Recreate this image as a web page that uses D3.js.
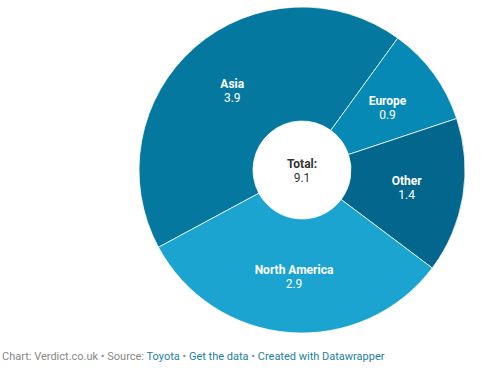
<!DOCTYPE html>
<html>
<head>
<meta charset="utf-8">
<script src="https://cdn.jsdelivr.net/npm/d3@7"></script>
<style>
  body { margin: 0; background: #fff; font-family: Roboto, "Noto Sans", sans-serif; }
  .footer { font-size: 11px; fill: #888; }
  .footer .link { fill: #1d81a2; }
</style>
</head>
<body>
<div id="chart"></div>
<script>
var svgWidth = 484;
var svgHeight = 374;

// data, clockwise from the lower-left slice
var regions = ["Asia", "Europe", "Other", "North America"];
var sales = [3.9, 0.9, 1.4, 2.9];
var colors = ["#04789f", "#068ab5", "#02668d", "#1aa4cf"];
var totalLabel = "Total:";
var totalValue = "9.1";

var cx = 302, cy = 170;
var outerR = 163, innerR = 49;

var svg = d3.select("#chart")
  .append("svg")
  .attr("width", svgWidth)
  .attr("height", svgHeight);

var chartGroup = svg.append("g")
  .attr("transform", `translate(${cx}, ${cy})`);

var data = regions.map((r, i) => ({ region: r, value: sales[i], color: colors[i] }));

var startDeg = -118.3;
var pie = d3.pie()
  .sort(null)
  .value(d => d.value)
  .startAngle(startDeg * Math.PI / 180)
  .endAngle((startDeg + 360) * Math.PI / 180);

var arc = d3.arc()
  .innerRadius(innerR)
  .outerRadius(outerR);

var arcs = pie(data);

chartGroup.selectAll("path")
  .data(arcs)
  .enter()
  .append("path")
  .attr("d", arc)
  .attr("fill", d => d.data.color)
  .attr("stroke", "rgba(255,255,255,0.75)")
  .attr("stroke-width", 1);

var labels = chartGroup.selectAll("g.label")
  .data(arcs)
  .enter()
  .append("g")
  .attr("class", "label")
  .attr("transform", d => `translate(${arc.centroid(d)})`);

labels.append("text")
  .attr("text-anchor", "middle")
  .attr("y", -2)
  .attr("font-size", 12)
  .attr("font-weight", "bold")
  .attr("fill", "#fff")
  .text(d => d.data.region);

labels.append("text")
  .attr("text-anchor", "middle")
  .attr("y", 12)
  .attr("font-size", 12)
  .attr("fill", "#fff")
  .text(d => d3.format(".1f")(d.data.value));

// center total
chartGroup.append("text")
  .attr("text-anchor", "middle")
  .attr("y", -2)
  .attr("font-size", 12)
  .attr("font-weight", "bold")
  .attr("fill", "#333")
  .text(totalLabel);

chartGroup.append("text")
  .attr("text-anchor", "middle")
  .attr("y", 12)
  .attr("font-size", 12)
  .attr("fill", "#333")
  .text(totalValue);

// footer
var footer = svg.append("text")
  .attr("class", "footer")
  .attr("x", 2)
  .attr("y", 360);

var parts = [
  ["Chart: Verdict.co.uk \u2022 Source: ", false],
  ["Toyota", true],
  [" \u2022 ", false],
  ["Get the data", true],
  [" \u2022 ", false],
  ["Created with Datawrapper", true]
];
parts.forEach(function(p) {
  footer.append("tspan")
    .attr("class", p[1] ? "link" : null)
    .text(p[0]);
});
</script>
</body>
</html>
